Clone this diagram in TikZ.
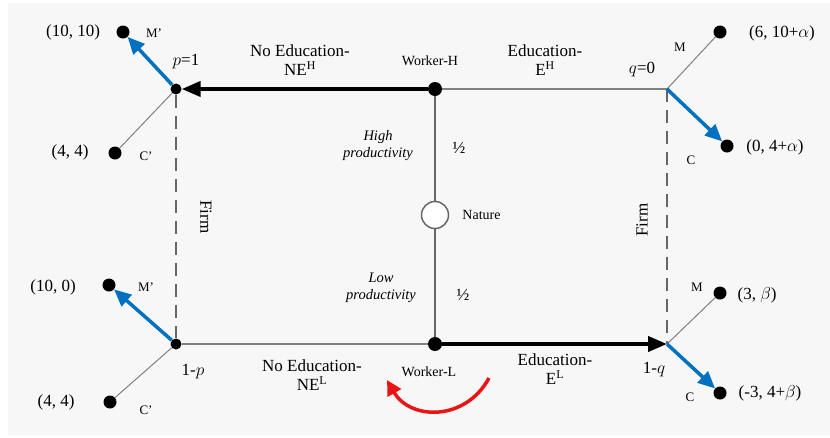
\documentclass[tikz,border=0pt]{standalone}
\usepackage{fontspec}
\setmainfont{Liberation Serif}
\usetikzlibrary{arrows.meta, positioning}
\definecolor{pathblue}{RGB}{0,112,192}
\definecolor{panel}{RGB}{247,247,247}
\definecolor{choicered}{RGB}{235,20,20}

\begin{document}
\begin{tikzpicture}[
    x=1pt, y=-1pt,
    every node/.style={font=\fontsize{17}{19}\selectfont, inner sep=1pt},
    small/.style={font=\fontsize{14}{16}\selectfont},
    tiny/.style={font=\fontsize{13}{15}\selectfont},
    player/.style={circle, fill=black, inner sep=0pt, minimum size=14pt},
    move/.style={circle, fill=black, inner sep=0pt, minimum size=11pt},
    leaf/.style={circle, fill=black, inner sep=0pt, minimum size=13pt},
    chance/.style={circle, draw=gray!80!black, line width=1.5pt, fill=white,
                   minimum size=27pt, inner sep=0pt},
    branch/.style={gray, line width=1pt},
    trunk/.style={gray!80!black, line width=1.5pt},
    arr/.style={-{Triangle[length=19pt,width=15pt]}, line width=4pt},
    barr/.style={-{Triangle[length=17pt,width=15pt]}, line width=3.5pt, pathblue},
    dline/.style={gray!80!black, line width=1.5pt, dash pattern=on 13pt off 8pt}
]
\useasboundingbox (0,0) rectangle (830,437);
\fill[white] (0,0) rectangle (830,437);
\fill[panel] (8,3) rectangle (830,435);

% workers and nature
\node[player] (workerH) at (435,89) {};
\node[player] (workerL) at (435,344) {};
\node[chance] (nature) at (435,215) {};

% firm decision points
\node[move] (firmNH) at (176,89) {};
\node[move] (firmNL) at (176,344) {};
\coordinate (firmEH) at (667,89);
\coordinate (firmEL) at (667,344);

% payoffs
\node[leaf] (mNH) at (123,32) {};
\node[leaf] (cNH) at (115,153) {};
\node[leaf] (mEH) at (720,32) {};
\node[leaf] (cEH) at (727,146) {};
\node[leaf] (mNL) at (109,285) {};
\node[leaf] (cNL) at (110,402) {};
\node[leaf] (mEL) at (720,293) {};
\node[leaf] (cEL) at (720,393) {};

\draw[trunk] (workerH) -- (nature);
\draw[trunk] (nature) -- (workerL);
\draw[arr] (workerH) -- (firmNH);
\draw[branch, line width=1.5pt] (workerH) -- (firmEH);
\draw[branch, line width=1.5pt] (workerL) -- (firmNL);
\draw[arr] (workerL) -- (firmEL);
\draw[dline] (firmNH) -- (firmNL);
\draw[dline] (firmEH) -- (firmEL);

\draw[barr] (firmNH) -- (mNH);
\draw[branch] (firmNH) -- (cNH);
\draw[branch] (firmEH) -- (mEH);
\draw[barr] (firmEH) -- (cEH);
\draw[barr] (firmNL) -- (mNL);
\draw[branch] (firmNL) -- (cNL);
\draw[branch] (firmEL) -- (mEL);
\draw[barr] (firmEL) -- (cEL);

% labels
\node[small] at (430,61) {Worker-H};
\node[small] at (429,372) {Worker-L};
\node[small, right=12pt of nature] {Nature};
\node[small, font=\fontsize{14.5}{17}\selectfont\itshape, align=center] at (378,146) {High\\productivity};
\node[small, font=\fontsize{14.5}{17}\selectfont\itshape, align=center] at (381,288) {Low\\productivity};
\node at (459,148) {½};
\node at (463,295) {½};

\node[align=center] at (300,60) {No Education-\\NE\textsuperscript{H}};
\node[align=center] at (545,60) {Education-\\E\textsuperscript{H}};
\node[align=center] at (312,375) {No Education-\\NE\textsuperscript{L}};
\node[align=center] at (555,369) {Education-\\E\textsuperscript{L}};

\node[rotate=-90] at (206,217) {Firm};
\node[rotate=90] at (642,220) {Firm};

\node at (186,62) {$p$=1};
\node at (193,372) {1-$p$};
\node at (642,70) {$q$=0};
\node at (654,370) {1-$q$};

\node at (73,32) {(10, 10)};
\node[tiny] at (154,33) {M'};
\node at (70,152) {(4, 4)};
\node[tiny] at (146,156) {C'};
\node at (53,287) {(10, 0)};
\node[tiny] at (146,287) {M'};
\node at (56,402) {(4, 4)};
\node[tiny] at (146,410) {C'};

\node at (782,33) {(6, 10+$\alpha$)};
\node[tiny] at (680,47) {M};
\node at (775,147) {(0, 4+$\alpha$)};
\node[tiny] at (691,160) {C};
\node at (757,295) {(3, $\beta$)};
\node[tiny] at (697,287) {M};
\node at (770,393) {(-3, 4+$\beta$)};
\node[tiny] at (690,397) {C};

% deviation hint
\coordinate (devfrom) at (489,378);
\coordinate (devto) at (387,380);
\draw[choicered, line width=3.5pt, -{Triangle[length=15pt,width=15pt]}]
    (devfrom) .. controls (465,422) and (410,420) .. (devto);
\end{tikzpicture}
\end{document}
